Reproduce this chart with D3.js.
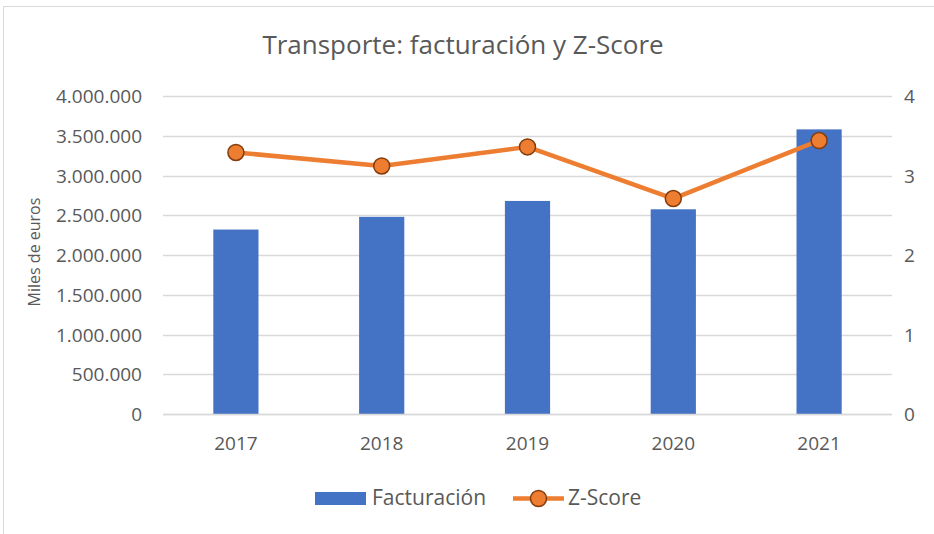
<!DOCTYPE html>
<html>
<head>
<meta charset="utf-8">
<script src="https://cdn.jsdelivr.net/npm/d3@7"></script>
<style>
  html, body { margin: 0; padding: 0; background: #fff; }
  svg { display: block; }
  text { font-family: "Open Sans", "Noto Sans", sans-serif; fill: #595959; }
</style>
</head>
<body>
<svg id="chart" width="934" height="534"></svg>
<script>
// Transport sector: turnover (thousand euros) and Z-Score by year
const years = ["2017", "2018", "2019", "2020", "2021"];
const facturacion = [2320000, 2480000, 2680000, 2575000, 3580000];
const zScore = [3.29, 3.12, 3.36, 2.71, 3.44];
const leftTicks = [0, 500000, 1000000, 1500000, 2000000, 2500000, 3000000, 3500000, 4000000];
const rightTicks = [0, 1, 2, 3, 4];

const title = "Transporte: facturación y Z-Score";
const yTitle = "Miles de euros";
const seriesNames = ["Facturación", "Z-Score"];

const W = 934, H = 534;
const margin = { left: 163, right: 42, top: 96, bottom: 120 };
const svg = d3.select("#chart");

// chart area frame
svg.append("rect")
  .attr("x", 3.5).attr("y", 6.5)
  .attr("width", W + 10).attr("height", H + 10)
  .attr("fill", "none").attr("stroke", "#d9d9d9").attr("stroke-width", 1);

const x = d3.scaleBand().domain(years)
  .range([margin.left, W - margin.right]).paddingInner(0.69).paddingOuter(0.345);
const yL = d3.scaleLinear().domain([0, 4000000]).range([H - margin.bottom, margin.top]);
const yR = d3.scaleLinear().domain([0, 4]).range([H - margin.bottom, margin.top]);

const fmt = d3.formatLocale({ decimal: ",", thousands: ".", grouping: [3], currency: ["", "€"] }).format(",d");

// gridlines
svg.append("g").selectAll("line").data(leftTicks).join("line")
  .attr("x1", margin.left).attr("x2", W - margin.right)
  .attr("y1", d => Math.round(yL(d)) + 0.5).attr("y2", d => Math.round(yL(d)) + 0.5)
  .attr("stroke", "#d9d9d9").attr("stroke-width", 1.3);

// left axis
const axL = svg.append("g").attr("transform", `translate(${margin.left},0)`)
  .call(d3.axisLeft(yL).tickValues(leftTicks).tickFormat(fmt).tickSize(0).tickPadding(21));
axL.select(".domain").remove();
axL.selectAll("text").attr("font-size", 19).attr("fill", "#595959")
  .style("font-family", '"Open Sans", sans-serif').attr("dy", "0.35em");

// right axis
const axR = svg.append("g").attr("transform", `translate(${W - margin.right},0)`)
  .call(d3.axisRight(yR).tickValues(rightTicks).tickFormat(d3.format("d")).tickSize(0).tickPadding(12));
axR.select(".domain").remove();
axR.selectAll("text").attr("font-size", 19).attr("fill", "#595959")
  .style("font-family", '"Open Sans", sans-serif').attr("dy", "0.35em");

// bars
svg.append("g").selectAll("rect").data(years).join("rect")
  .attr("x", d => x(d)).attr("width", x.bandwidth())
  .attr("y", (d, i) => yL(facturacion[i]))
  .attr("height", (d, i) => yL(0) - yL(facturacion[i]))
  .attr("fill", "#4472c4");

// bottom axis
const axB = svg.append("g").attr("transform", `translate(0,${H - margin.bottom})`)
  .call(d3.axisBottom(x).tickSize(0).tickPadding(23));
axB.select(".domain").attr("stroke", "#d9d9d9").attr("stroke-width", 1.3)
  .attr("d", `M${margin.left},0.5H${W - margin.right}`);
axB.selectAll("text").attr("font-size", 19).attr("fill", "#595959")
  .style("font-family", '"Open Sans", sans-serif');

// Z-Score line
const cx = (d, i) => x(years[i]) + x.bandwidth() / 2;
const line = d3.line().x((d, i) => cx(d, i)).y(d => yR(d));
svg.append("path").datum(zScore)
  .attr("d", line).attr("fill", "none")
  .attr("stroke", "#ed7d31").attr("stroke-width", 4.5).attr("stroke-linejoin", "round");
svg.append("g").selectAll("circle").data(zScore).join("circle")
  .attr("cx", cx).attr("cy", d => yR(d)).attr("r", 8)
  .attr("fill", "#ed7d31").attr("stroke", "#843c0c").attr("stroke-width", 1.5);

// titles
svg.append("text").attr("x", 463).attr("y", 54).attr("text-anchor", "middle")
  .attr("font-size", 26).text(title);
svg.append("text").attr("transform", "translate(40,252) rotate(-90)")
  .attr("text-anchor", "middle").attr("font-size", 16).text(yTitle);

// legend
const lg = svg.append("g");
lg.append("rect").attr("x", 315).attr("y", 492).attr("width", 51).attr("height", 13).attr("fill", "#4472c4");
lg.append("text").attr("x", 372).attr("y", 505).attr("font-size", 21).text(seriesNames[0]);
lg.append("line").attr("x1", 513).attr("x2", 564).attr("y1", 498.5).attr("y2", 498.5)
  .attr("stroke", "#ed7d31").attr("stroke-width", 4.5);
lg.append("circle").attr("cx", 538.5).attr("cy", 498.5).attr("r", 8)
  .attr("fill", "#ed7d31").attr("stroke", "#843c0c").attr("stroke-width", 1.5);
lg.append("text").attr("x", 568).attr("y", 505).attr("font-size", 21).text(seriesNames[1]);
</script>
</body>
</html>
